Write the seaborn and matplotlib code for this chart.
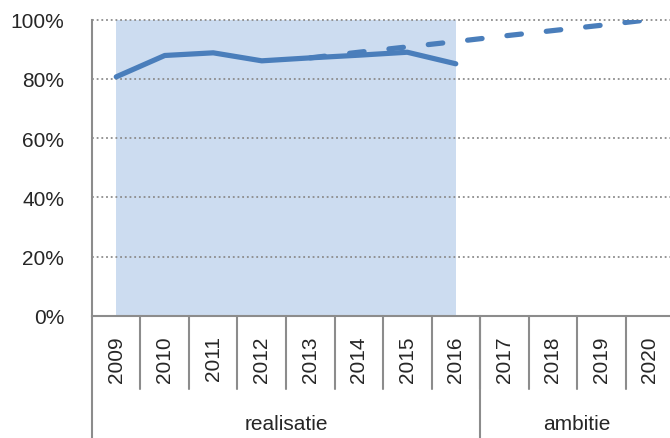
import matplotlib
matplotlib.use("Agg")
import matplotlib.pyplot as plt
import matplotlib.transforms as mtransforms
import seaborn as sns
import pandas as pd

# data
years = [2009, 2010, 2011, 2012, 2013, 2014, 2015, 2016, 2017, 2018, 2019, 2020]
real_years = [2009, 2010, 2011, 2012, 2013, 2014, 2015, 2016]
real_values = [80.7, 87.9, 88.8, 86.1, 87.1, 88.0, 89.0, 85.1]
amb_years = [2013, 2014, 2015, 2016, 2017, 2018, 2019, 2020]
amb_values = [87.1, 89.0, 90.8, 92.6, 94.5, 96.3, 98.1, 100.0]
shade_values = [100, 100, 100, 100, 100, 100, 100, 100]
groups = ['realisatie', 'ambitie']
group_spans = [(2008.5, 2016.5), (2016.5, 2020.5)]
yticks = [0, 20, 40, 60, 80, 100]

blue = '#4a7ebb'
shade = '#ccdcf0'
grey = '#8c8c8c'

sns.set_style('white')
plt.rcParams['font.family'] = ['Liberation Sans', 'DejaVu Sans']

fig = plt.figure(figsize=(6.7, 4.39), dpi=100)
ax = fig.add_axes([0.1373, 0.278, 0.8687, 0.675])

# shaded realisatie area
ax.fill_between(real_years, 0, shade_values, color=shade, lw=0, zorder=1)

# dotted gridlines
for v in yticks[1:]:
    ax.axhline(v, color=grey, ls=(0, (1, 1.6)), lw=1.3, zorder=2, clip_on=False)

df_real = pd.DataFrame({'jaar': real_years, 'waarde': real_values})
df_amb = pd.DataFrame({'jaar': amb_years, 'waarde': amb_values})

sns.lineplot(data=df_amb, x='jaar', y='waarde', ax=ax, color=blue, lw=3.75,
             dashes=False, zorder=3)
ax.lines[-1].set_linestyle((0, (2.8, 4.8)))
ax.lines[-1].set_dash_capstyle('round')
sns.lineplot(data=df_real, x='jaar', y='waarde', ax=ax, color=blue, lw=3.75,
             zorder=4)
ax.lines[-1].set_solid_capstyle('round')
ax.lines[-1].set_solid_joinstyle('round')

ax.set_xlim(2008.5, 2020.5)
ax.set_ylim(0, 100)
ax.set_xlabel('')
ax.set_ylabel('')

ax.set_yticks(yticks)
ax.set_yticklabels([f'{v}%' for v in yticks])
ax.set_xticks(years)
ax.set_xticklabels([str(y) for y in years], rotation=90)
ax.tick_params(axis='y', direction='out', length=7, width=1.5, color=grey,
               pad=13, labelsize=15)
ax.tick_params(axis='x', length=0, pad=14, labelsize=15)

for s in ['top', 'right']:
    ax.spines[s].set_visible(False)
for s in ['left', 'bottom']:
    ax.spines[s].set_color(grey)
    ax.spines[s].set_linewidth(1.5)

# category separators below the axis
trans = ax.get_xaxis_transform()
for b in [y + 0.5 for y in years[:-1]]:
    ax.plot([b, b], [0, -0.245], color=grey, lw=1.5, transform=trans,
            clip_on=False)
for (a, b), name in zip(group_spans, groups):
    ax.plot([a, a], [0, -0.42], color=grey, lw=1.5, transform=trans,
            clip_on=False)
    ax.text((a + b) / 2, -0.364, name, transform=trans, ha='center',
            va='center', fontsize=15)

fig.savefig('out.png', dpi=100)
